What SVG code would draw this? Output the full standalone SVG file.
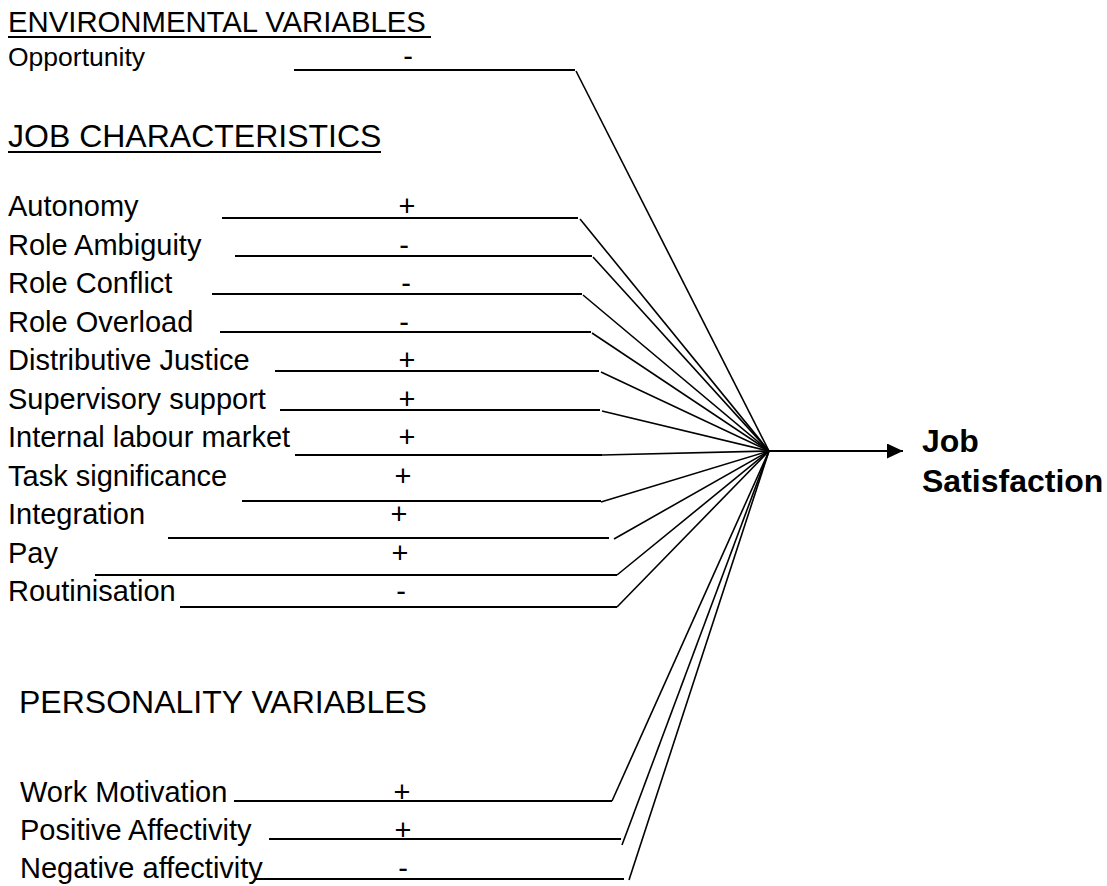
<svg xmlns="http://www.w3.org/2000/svg" width="1107" height="886" viewBox="0 0 1107 886">
  <defs>
    <style>
      .hdr { font-family: "Liberation Sans", Arial, sans-serif; fill: #000; }
      .lbl { font-family: "Liberation Sans", Arial, sans-serif; font-size: 29px; fill: #000; }
      .sgn { font-family: "Liberation Sans", Arial, sans-serif; font-size: 29px; fill: #000; text-anchor: middle; }
      .out { font-family: "Liberation Sans", Arial, sans-serif; font-size: 32px; font-weight: bold; fill: #000; }
      .rule { stroke: #000; stroke-width: 2.2; }
      .lead { stroke: #000; stroke-width: 2; fill: none; }
      .diag { stroke: #000; stroke-width: 1.6; fill: none; }
    </style>
    <marker id="arrowhead" markerWidth="16" markerHeight="15" refX="16" refY="7.5" orient="auto" markerUnits="userSpaceOnUse">
      <path d="M0,0 L16,7.5 L0,15 Z" fill="#000"/>
    </marker>
  </defs>
  <rect width="1107" height="886" fill="#fff"/>

  <!-- section headings -->
  <g id="heading-environmental">
    <text class="hdr" x="8" y="32" font-size="29.3">ENVIRONMENTAL VARIABLES</text>
    <line class="rule" x1="8" y1="37" x2="431" y2="37"/>
  </g>
  <g id="heading-job">
    <text class="hdr" x="8" y="147" font-size="32">JOB CHARACTERISTICS</text>
    <line class="rule" x1="8" y1="152" x2="381" y2="152"/>
  </g>
  <g id="heading-personality">
    <text class="hdr" x="19" y="713" font-size="32">PERSONALITY VARIABLES</text>
  </g>

  <!-- variable nodes: label and sign -->
  <g id="node-opportunity">
    <text class="hdr" x="8" y="66" font-size="26.5">Opportunity</text>
    <text class="sgn" x="408" y="66" font-size="26.5">-</text>
  </g>
  <g id="node-autonomy">
    <text class="lbl" x="8" y="216">Autonomy</text>
    <text class="sgn" x="407" y="216">+</text>
  </g>
  <g id="node-role-ambiguity">
    <text class="lbl" x="8" y="254.5">Role Ambiguity</text>
    <text class="sgn" x="404" y="254.5">-</text>
  </g>
  <g id="node-role-conflict">
    <text class="lbl" x="8" y="293">Role Conflict</text>
    <text class="sgn" x="406" y="293">-</text>
  </g>
  <g id="node-role-overload">
    <text class="lbl" x="8" y="331.5">Role Overload</text>
    <text class="sgn" x="404" y="331.5">-</text>
  </g>
  <g id="node-distributive-justice">
    <text class="lbl" x="8" y="370">Distributive Justice</text>
    <text class="sgn" x="407" y="370">+</text>
  </g>
  <g id="node-supervisory-support">
    <text class="lbl" x="8" y="408.5">Supervisory support</text>
    <text class="sgn" x="407" y="408.5">+</text>
  </g>
  <g id="node-internal-labour-market">
    <text class="lbl" x="8" y="447">Internal labour market</text>
    <text class="sgn" x="407" y="447">+</text>
  </g>
  <g id="node-task-significance">
    <text class="lbl" x="8" y="485.5">Task significance</text>
    <text class="sgn" x="403" y="485.5">+</text>
  </g>
  <g id="node-integration">
    <text class="lbl" x="8" y="524">Integration</text>
    <text class="sgn" x="399" y="524">+</text>
  </g>
  <g id="node-pay">
    <text class="lbl" x="8" y="562.5">Pay</text>
    <text class="sgn" x="400" y="562.5">+</text>
  </g>
  <g id="node-routinisation">
    <text class="lbl" x="8" y="601">Routinisation</text>
    <text class="sgn" x="401" y="601">-</text>
  </g>
  <g id="node-work-motivation">
    <text class="lbl" x="20" y="802">Work Motivation</text>
    <text class="sgn" x="402" y="802">+</text>
  </g>
  <g id="node-positive-affectivity">
    <text class="lbl" x="20" y="840">Positive Affectivity</text>
    <text class="sgn" x="403" y="840">+</text>
  </g>
  <g id="node-negative-affectivity">
    <text class="lbl" x="20" y="878">Negative affectivity</text>
    <text class="sgn" x="403" y="878">-</text>
  </g>

  <!-- outcome -->
  <g id="node-job-satisfaction">
    <text class="out" x="922" y="452">Job</text>
    <text class="out" x="922" y="492">Satisfaction</text>
  </g>

  <!-- connectors: lead-in rules, then diagonals converging on the hub -->
  <g id="connectors">
    <line class="lead" x1="294" y1="70" x2="575" y2="70"/>
    <line class="lead" x1="222" y1="218" x2="578" y2="218"/>
    <line class="lead" x1="235" y1="256" x2="592" y2="256"/>
    <line class="lead" x1="212" y1="294" x2="582" y2="294"/>
    <line class="lead" x1="220" y1="332" x2="591" y2="332"/>
    <line class="lead" x1="275" y1="371" x2="599" y2="371"/>
    <line class="lead" x1="280" y1="410" x2="600" y2="410"/>
    <line class="lead" x1="295" y1="455" x2="602" y2="455"/>
    <line class="lead" x1="242" y1="501" x2="601" y2="501"/>
    <line class="lead" x1="168" y1="538" x2="609" y2="538"/>
    <line class="lead" x1="95" y1="575" x2="617" y2="575"/>
    <line class="lead" x1="180" y1="607" x2="617" y2="607"/>
    <line class="lead" x1="234" y1="801" x2="612" y2="801"/>
    <line class="lead" x1="269" y1="839" x2="621" y2="839"/>
    <line class="lead" x1="255" y1="879" x2="624" y2="879"/>

    <line class="diag" x1="576" y1="71" x2="769" y2="451"/>
    <line class="diag" x1="580" y1="219" x2="769" y2="451"/>
    <line class="diag" x1="593" y1="257" x2="769" y2="451"/>
    <line class="diag" x1="583" y1="295" x2="769" y2="451"/>
    <line class="diag" x1="592" y1="333" x2="769" y2="451"/>
    <line class="diag" x1="601" y1="372" x2="769" y2="451"/>
    <line class="diag" x1="602" y1="411" x2="769" y2="451"/>
    <line class="diag" x1="602" y1="455" x2="769" y2="451"/>
    <line class="diag" x1="601" y1="502" x2="769" y2="451"/>
    <line class="diag" x1="614" y1="539" x2="769" y2="451"/>
    <line class="diag" x1="617" y1="575" x2="769" y2="451"/>
    <line class="diag" x1="617" y1="607" x2="769" y2="451"/>
    <line class="diag" x1="612" y1="801" x2="769" y2="451"/>
    <line class="diag" x1="622" y1="845" x2="769" y2="451"/>
    <line class="diag" x1="629" y1="880" x2="769" y2="451"/>

    <line class="lead" x1="769" y1="451" x2="903" y2="451" marker-end="url(#arrowhead)"/>
  </g>
</svg>
